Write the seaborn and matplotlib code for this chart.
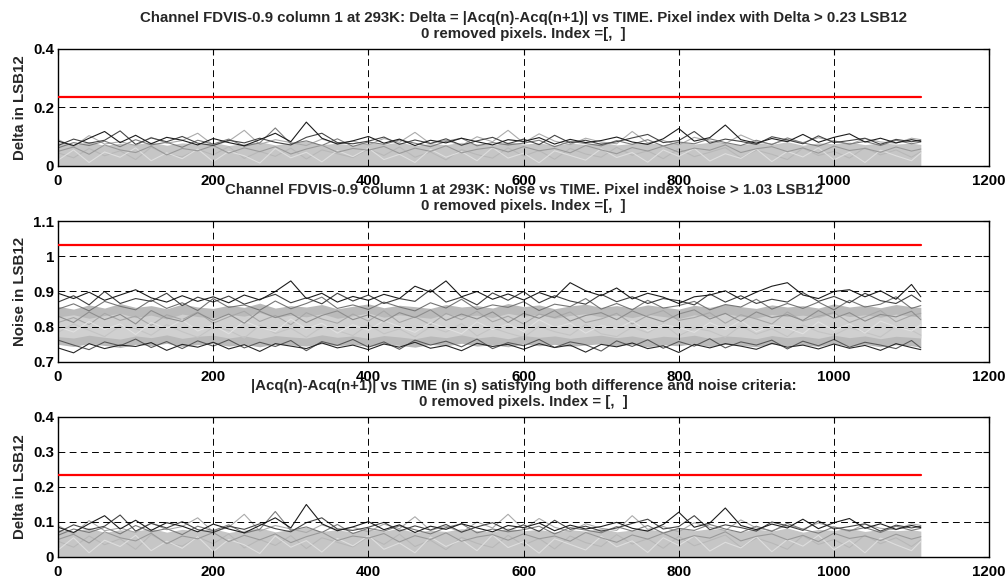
import numpy as np
import pandas as pd
import matplotlib
matplotlib.use("Agg")
import matplotlib.pyplot as plt
import seaborn as sns

# ---------------- data ----------------
time = [0, 20, 40, 60, 80, 100, 120, 140, 160, 180,
        200, 220, 240, 260, 280, 300, 320, 340, 360, 380,
        400, 420, 440, 460, 480, 500, 520, 540, 560, 580,
        600, 620, 640, 660, 680, 700, 720, 740, 760, 780,
        800, 820, 840, 860, 880, 900, 920, 940, 960, 980,
        1000, 1020, 1040, 1060, 1080, 1100, 1112]

delta_threshold = 0.235
noise_threshold = 1.033

# upper edge of the dense band of delta curves
delta_band_hi = [0.080, 0.072, 0.084, 0.070, 0.078, 0.074, 0.082, 0.071, 0.079, 0.075,
                 0.081, 0.070, 0.077, 0.083, 0.072, 0.079, 0.085, 0.073, 0.078, 0.071,
                 0.080, 0.074, 0.082, 0.070, 0.077, 0.073, 0.081, 0.076, 0.072, 0.083,
                 0.075, 0.079, 0.071, 0.078, 0.074, 0.082, 0.072, 0.077, 0.080, 0.073,
                 0.084, 0.075, 0.081, 0.078, 0.072, 0.080, 0.074, 0.083, 0.071, 0.079,
                 0.076, 0.082, 0.073, 0.079, 0.075, 0.078, 0.074]

delta_l1 = [0.020, 0.055, 0.012, 0.048, 0.030, 0.062, 0.018, 0.045, 0.025, 0.058,
            0.015, 0.050, 0.035, 0.010, 0.060, 0.028, 0.047, 0.014, 0.053, 0.032,
            0.061, 0.022, 0.040, 0.012, 0.057, 0.030, 0.049, 0.018, 0.063, 0.027,
            0.044, 0.011, 0.052, 0.036, 0.020, 0.059, 0.029, 0.046, 0.013, 0.055,
            0.033, 0.060, 0.017, 0.042, 0.026, 0.058, 0.015, 0.050, 0.031, 0.062,
            0.021, 0.047, 0.012, 0.054, 0.035, 0.018, 0.045]

delta_l2 = [0.045, 0.028, 0.060, 0.035, 0.052, 0.022, 0.064, 0.040, 0.031, 0.057,
            0.038, 0.066, 0.026, 0.050, 0.033, 0.061, 0.024, 0.055, 0.042, 0.029,
            0.058, 0.036, 0.065, 0.030, 0.048, 0.021, 0.056, 0.039, 0.027, 0.062,
            0.034, 0.053, 0.023, 0.060, 0.041, 0.030, 0.064, 0.037, 0.052, 0.025,
            0.059, 0.032, 0.047, 0.063, 0.028, 0.054, 0.040, 0.022, 0.061, 0.036,
            0.050, 0.027, 0.063, 0.038, 0.055, 0.030, 0.049]

delta_m2 = [0.090, 0.066, 0.104, 0.075, 0.083, 0.070, 0.098, 0.078, 0.087, 0.112,
            0.072, 0.085, 0.122, 0.074, 0.090, 0.080, 0.070, 0.092, 0.078, 0.085,
            0.072, 0.094, 0.081, 0.115, 0.076, 0.088, 0.070, 0.100, 0.083, 0.122,
            0.079, 0.110, 0.085, 0.073, 0.095, 0.082, 0.076, 0.118, 0.079, 0.087,
            0.072, 0.098, 0.085, 0.076, 0.106, 0.083, 0.075, 0.090, 0.080, 0.097,
            0.085, 0.073, 0.094, 0.082, 0.078, 0.095, 0.090]

delta_m1 = [0.062, 0.080, 0.070, 0.085, 0.066, 0.090, 0.072, 0.081, 0.064, 0.088,
            0.075, 0.092, 0.068, 0.079, 0.130, 0.076, 0.086, 0.070, 0.093, 0.067,
            0.082, 0.074, 0.089, 0.078, 0.066, 0.084, 0.095, 0.069, 0.080, 0.072,
            0.078, 0.088, 0.066, 0.084, 0.077, 0.069, 0.087, 0.074, 0.090, 0.068,
            0.082, 0.076, 0.093, 0.080, 0.070, 0.088, 0.073, 0.096, 0.079, 0.068,
            0.086, 0.075, 0.084, 0.070, 0.088, 0.076, 0.082]

delta_m3 = [0.050, 0.065, 0.040, 0.072, 0.055, 0.046, 0.068, 0.038, 0.060, 0.052,
            0.070, 0.044, 0.062, 0.049, 0.066, 0.041, 0.058, 0.071, 0.047, 0.060,
            0.054, 0.067, 0.043, 0.061, 0.050, 0.069, 0.045, 0.057, 0.064, 0.048,
            0.066, 0.052, 0.060, 0.045, 0.070, 0.055, 0.042, 0.063, 0.051, 0.068,
            0.047, 0.061, 0.054, 0.072, 0.046, 0.059, 0.066, 0.049, 0.062, 0.044,
            0.068, 0.053, 0.060, 0.047, 0.065, 0.051, 0.058]

delta_d2 = [0.070, 0.092, 0.078, 0.088, 0.120, 0.074, 0.096, 0.083, 0.101, 0.078,
            0.070, 0.088, 0.079, 0.095, 0.081, 0.072, 0.098, 0.112, 0.080, 0.076,
            0.085, 0.099, 0.074, 0.089, 0.077, 0.093, 0.071, 0.086, 0.098, 0.076,
            0.092, 0.073, 0.105, 0.079, 0.088, 0.074, 0.083, 0.096, 0.108, 0.080,
            0.087, 0.118, 0.078, 0.092, 0.084, 0.074, 0.100, 0.089, 0.076, 0.103,
            0.080, 0.087, 0.095, 0.074, 0.091, 0.083, 0.088]

delta_d1 = [0.085, 0.070, 0.095, 0.118, 0.080, 0.105, 0.076, 0.098, 0.088, 0.072,
            0.094, 0.080, 0.069, 0.090, 0.112, 0.083, 0.150, 0.095, 0.075, 0.086,
            0.101, 0.078, 0.092, 0.070, 0.088, 0.079, 0.095, 0.083, 0.072, 0.090,
            0.084, 0.097, 0.075, 0.091, 0.080, 0.087, 0.099, 0.082, 0.074, 0.093,
            0.128, 0.085, 0.097, 0.140, 0.090, 0.078, 0.094, 0.083, 0.108, 0.081,
            0.098, 0.110, 0.082, 0.095, 0.079, 0.090, 0.084]

# noise: outer and inner edges of the dense band
noise_lo = [0.750, 0.744, 0.752, 0.747, 0.741, 0.750, 0.746, 0.753, 0.744, 0.749,
            0.752, 0.745, 0.750, 0.743, 0.751, 0.748, 0.745, 0.752, 0.746, 0.750,
            0.744, 0.751, 0.747, 0.742, 0.750, 0.746, 0.753, 0.745, 0.749, 0.743,
            0.751, 0.746, 0.750, 0.744, 0.748, 0.752, 0.745, 0.750, 0.743, 0.749,
            0.746, 0.752, 0.744, 0.750, 0.747, 0.743, 0.751, 0.746, 0.749, 0.744,
            0.752, 0.745, 0.750, 0.743, 0.749, 0.746, 0.742]

noise_hi = [0.858, 0.850, 0.862, 0.853, 0.866, 0.855, 0.860, 0.851, 0.864, 0.856,
            0.852, 0.861, 0.855, 0.867, 0.853, 0.860, 0.856, 0.863, 0.851, 0.858,
            0.865, 0.854, 0.861, 0.857, 0.852, 0.863, 0.856, 0.860, 0.853, 0.866,
            0.857, 0.862, 0.851, 0.859, 0.864, 0.855, 0.860, 0.853, 0.862, 0.856,
            0.850, 0.861, 0.855, 0.864, 0.857, 0.852, 0.862, 0.856, 0.860, 0.853,
            0.865, 0.856, 0.861, 0.854, 0.863, 0.857, 0.855]

noise_core_lo = [0.772, 0.768, 0.776, 0.770, 0.765, 0.774, 0.769, 0.777, 0.767, 0.773,
                 0.776, 0.768, 0.774, 0.766, 0.775, 0.771, 0.768, 0.777, 0.770, 0.774,
                 0.767, 0.775, 0.771, 0.766, 0.774, 0.769, 0.777, 0.768, 0.773, 0.766,
                 0.775, 0.770, 0.774, 0.767, 0.772, 0.776, 0.769, 0.774, 0.766, 0.773,
                 0.770, 0.776, 0.767, 0.774, 0.771, 0.766, 0.775, 0.769, 0.773, 0.767,
                 0.776, 0.769, 0.774, 0.766, 0.773, 0.770, 0.768]

noise_core_hi = [0.828, 0.834, 0.824, 0.832, 0.838, 0.826, 0.833, 0.822, 0.836, 0.829,
                 0.825, 0.835, 0.830, 0.840, 0.826, 0.833, 0.828, 0.837, 0.824, 0.831,
                 0.839, 0.827, 0.834, 0.829, 0.824, 0.836, 0.830, 0.833, 0.826, 0.838,
                 0.830, 0.835, 0.824, 0.832, 0.837, 0.828, 0.833, 0.826, 0.835, 0.829,
                 0.823, 0.834, 0.828, 0.837, 0.830, 0.825, 0.835, 0.829, 0.833, 0.826,
                 0.838, 0.829, 0.834, 0.827, 0.836, 0.830, 0.828]

noise_l1 = [0.800, 0.785, 0.815, 0.792, 0.808, 0.778, 0.812, 0.795, 0.820, 0.788,
            0.805, 0.780, 0.816, 0.798, 0.786, 0.822, 0.794, 0.810, 0.782, 0.806,
            0.790, 0.818, 0.800, 0.784, 0.812, 0.796, 0.780, 0.814, 0.792, 0.808,
            0.786, 0.820, 0.798, 0.810, 0.782, 0.804, 0.794, 0.816, 0.788, 0.806,
            0.798, 0.784, 0.812, 0.792, 0.818, 0.786, 0.804, 0.796, 0.780, 0.814,
            0.790, 0.808, 0.782, 0.816, 0.800, 0.788, 0.806]

noise_l2 = [0.784, 0.808, 0.790, 0.772, 0.802, 0.795, 0.776, 0.806, 0.786, 0.770,
            0.798, 0.790, 0.768, 0.804, 0.781, 0.796, 0.770, 0.800, 0.789, 0.775,
            0.806, 0.780, 0.794, 0.771, 0.800, 0.785, 0.809, 0.774, 0.797, 0.782,
            0.770, 0.801, 0.786, 0.776, 0.806, 0.780, 0.772, 0.799, 0.783, 0.808,
            0.774, 0.796, 0.788, 0.770, 0.803, 0.779, 0.794, 0.772, 0.805, 0.786,
            0.776, 0.798, 0.784, 0.771, 0.802, 0.790, 0.776]

noise_m2 = [0.812, 0.826, 0.806, 0.838, 0.818, 0.830, 0.804, 0.834, 0.820, 0.842,
            0.810, 0.828, 0.844, 0.815, 0.832, 0.806, 0.840, 0.822, 0.810, 0.836,
            0.816, 0.845, 0.812, 0.828, 0.806, 0.838, 0.820, 0.844, 0.814, 0.830,
            0.808, 0.836, 0.826, 0.842, 0.812, 0.822, 0.838, 0.808, 0.832, 0.846,
            0.818, 0.826, 0.840, 0.810, 0.834, 0.822, 0.808, 0.842, 0.816, 0.830,
            0.840, 0.812, 0.828, 0.846, 0.814, 0.832, 0.838]

noise_m1 = [0.830, 0.812, 0.842, 0.820, 0.835, 0.808, 0.846, 0.825, 0.815, 0.840,
            0.818, 0.836, 0.810, 0.844, 0.826, 0.838, 0.812, 0.832, 0.845, 0.820,
            0.834, 0.815, 0.840, 0.826, 0.848, 0.818, 0.836, 0.822, 0.842, 0.812,
            0.838, 0.824, 0.846, 0.816, 0.832, 0.840, 0.820, 0.845, 0.828, 0.814,
            0.836, 0.848, 0.822, 0.838, 0.815, 0.842, 0.826, 0.834, 0.818, 0.846,
            0.824, 0.840, 0.816, 0.835, 0.828, 0.844, 0.820]

noise_top3 = [0.850, 0.865, 0.845, 0.872, 0.858, 0.848, 0.876, 0.852, 0.868, 0.846,
              0.880, 0.855, 0.862, 0.847, 0.873, 0.851, 0.866, 0.884, 0.852, 0.862,
              0.849, 0.870, 0.856, 0.845, 0.868, 0.853, 0.878, 0.849, 0.862, 0.855,
              0.871, 0.846, 0.864, 0.857, 0.880, 0.850, 0.866, 0.848, 0.875, 0.853,
              0.860, 0.872, 0.848, 0.863, 0.856, 0.878, 0.850, 0.866, 0.852, 0.870,
              0.848, 0.875, 0.856, 0.864, 0.885, 0.852, 0.860]

noise_bot2 = [0.762, 0.748, 0.735, 0.757, 0.746, 0.765, 0.741, 0.758, 0.738, 0.760,
              0.745, 0.763, 0.740, 0.756, 0.744, 0.761, 0.732, 0.758, 0.747, 0.764,
              0.742, 0.757, 0.736, 0.762, 0.748, 0.759, 0.743, 0.765, 0.738, 0.755,
              0.746, 0.764, 0.741, 0.757, 0.749, 0.731, 0.760, 0.744, 0.763, 0.739,
              0.758, 0.745, 0.766, 0.740, 0.757, 0.748, 0.762, 0.737, 0.759, 0.746,
              0.764, 0.742, 0.756, 0.748, 0.738, 0.761, 0.740]

noise_top2 = [0.870, 0.888, 0.862, 0.900, 0.866, 0.880, 0.872, 0.895, 0.860, 0.884,
              0.870, 0.887, 0.864, 0.878, 0.892, 0.868, 0.882, 0.865, 0.895, 0.873,
              0.890, 0.866, 0.880, 0.872, 0.905, 0.870, 0.884, 0.862, 0.896, 0.875,
              0.900, 0.868, 0.888, 0.873, 0.864, 0.892, 0.871, 0.885, 0.866, 0.880,
              0.874, 0.862, 0.893, 0.870, 0.888, 0.866, 0.878, 0.870, 0.897, 0.872,
              0.886, 0.868, 0.895, 0.874, 0.866, 0.890, 0.872]

noise_bot1 = [0.740, 0.726, 0.752, 0.738, 0.748, 0.744, 0.755, 0.733, 0.750, 0.742,
              0.756, 0.737, 0.749, 0.730, 0.752, 0.745, 0.738, 0.754, 0.740, 0.748,
              0.735, 0.751, 0.742, 0.756, 0.739, 0.747, 0.732, 0.753, 0.744, 0.750,
              0.736, 0.752, 0.741, 0.748, 0.728, 0.750, 0.743, 0.754, 0.738, 0.746,
              0.727, 0.750, 0.740, 0.752, 0.745, 0.736, 0.753, 0.742, 0.748, 0.737,
              0.751, 0.739, 0.747, 0.733, 0.752, 0.741, 0.735]

noise_top1 = [0.895, 0.880, 0.898, 0.875, 0.890, 0.905, 0.882, 0.870, 0.888, 0.872,
              0.885, 0.868, 0.890, 0.876, 0.900, 0.930, 0.880, 0.895, 0.870, 0.886,
              0.875, 0.892, 0.880, 0.915, 0.898, 0.930, 0.885, 0.900, 0.878, 0.893,
              0.876, 0.897, 0.882, 0.925, 0.902, 0.888, 0.910, 0.879, 0.895, 0.884,
              0.866, 0.885, 0.890, 0.902, 0.878, 0.898, 0.915, 0.925, 0.890, 0.880,
              0.900, 0.905, 0.885, 0.902, 0.878, 0.920, 0.885]

delta_series = {"l2": delta_l2, "l1": delta_l1, "m2": delta_m2, "m1": delta_m1,
                "m3": delta_m3, "d2": delta_d2, "d1": delta_d1}
delta_colors = {"l2": "#b8b8b8", "l1": "#dedede", "m2": "#ababab", "m1": "#7c7c7c",
                "m3": "#9a9a9a", "d2": "#454545", "d1": "#1c1c1c"}

noise_series = {"m2": noise_m2, "l2": noise_l2, "l1": noise_l1, "m1": noise_m1,
                "t3": noise_top3, "b2": noise_bot2, "t2": noise_top2,
                "b1": noise_bot1, "t1": noise_top1}
noise_colors = {"m2": "#a8a8a8", "l2": "#c4c4c4", "l1": "#e0e0e0", "m1": "#8e8e8e",
                "t3": "#767676", "b2": "#5a5a5a", "t2": "#404040",
                "b1": "#262626", "t1": "#1c1c1c"}

titles = [
    "Channel FDVIS-0.9 column 1 at 293K: Delta = |Acq(n)-Acq(n+1)| vs TIME. Pixel index with Delta > 0.23 LSB12\n0 removed pixels. Index =[,  ]",
    "Channel FDVIS-0.9 column 1 at 293K: Noise vs TIME. Pixel index noise > 1.03 LSB12\n0 removed pixels. Index =[,  ]",
    "|Acq(n)-Acq(n+1)| vs TIME (in s) satisfying both difference and noise criteria:\n0 removed pixels. Index = [,  ]",
]
ylabels = ["Delta in LSB12", "Noise in LSB12", "Delta in LSB12"]
xticks = [0, 200, 400, 600, 800, 1000, 1200]
yticks = [[0, 0.2, 0.4], [0.7, 0.8, 0.9, 1.0, 1.1], [0, 0.1, 0.2, 0.3, 0.4]]
yticklabels = [["0", "0.2", "0.4"], ["0.7", "0.8", "0.9", "1", "1.1"],
               ["0", "0.1", "0.2", "0.3", "0.4"]]


def long_df(series):
    rows = []
    for name, vals in series.items():
        for t, v in zip(time, vals):
            rows.append((name, t, v))
    return pd.DataFrame(rows, columns=["pixel", "time", "value"])


# ---------------- figure ----------------
sns.set_style("white")
plt.rcParams["font.family"] = ["Liberation Sans", "DejaVu Sans"]
plt.rcParams["font.weight"] = "bold"

fig = plt.figure(figsize=(10.06, 5.79), dpi=100)
positions = [
    [0.0577, 0.7133, 0.9255, 0.2021],
    [0.0577, 0.3748, 0.9255, 0.2435],
    [0.0577, 0.0380, 0.9255, 0.2418],
]
axes = [fig.add_axes(p) for p in positions]
FS = 10.8

for i, ax in enumerate(axes):
    if i in (0, 2):
        ax.fill_between(time, 0, delta_band_hi, color="#c6c6c6", lw=0, zorder=1)
        df = long_df(delta_series)
        sns.lineplot(data=df, x="time", y="value", hue="pixel",
                     palette=delta_colors, hue_order=list(delta_series),
                     estimator=None, legend=False, linewidth=0.8, ax=ax, zorder=2)
        thr = delta_threshold
    else:
        ax.fill_between(time, noise_lo, noise_hi, color="#bababa", lw=0, zorder=1)
        ax.fill_between(time, noise_core_lo, noise_core_hi, color="#d0d0d0", lw=0, zorder=1)
        df = long_df(noise_series)
        sns.lineplot(data=df, x="time", y="value", hue="pixel",
                     palette=noise_colors, hue_order=list(noise_series),
                     estimator=None, legend=False, linewidth=0.8, ax=ax, zorder=2)
        thr = noise_threshold
    ax.plot([time[0], time[-1]], [thr, thr], color="#ff0000", lw=1.6, zorder=3)

    ax.set_xlim(0, 1200)
    ax.set_ylim(yticks[i][0], yticks[i][-1])
    ax.set_xticks(xticks)
    ax.set_xticklabels([str(x) for x in xticks], fontsize=FS, fontweight="bold")
    ax.set_yticks(yticks[i])
    ax.set_yticklabels(yticklabels[i], fontsize=FS, fontweight="bold")
    ax.set_xlabel("")
    ax.set_ylabel(ylabels[i], fontsize=FS, fontweight="bold", labelpad=4)
    ax.grid(True, color="black", linestyle=(0, (7, 4.5)), linewidth=0.7)
    ax.set_axisbelow(False)
    for s in ax.spines.values():
        s.set_visible(True)
        s.set_color("black")
        s.set_linewidth(1.0)
    ax.tick_params(axis="both", direction="in", top=True, right=True, length=4,
                   width=0.8, colors="black")
    ax.tick_params(axis="x", pad=5.5)
    ax.tick_params(axis="y", pad=3)
    ax.set_title(titles[i], fontsize=FS, fontweight="bold", pad=8, linespacing=1.2)

fig.savefig("out.png", dpi=100)
